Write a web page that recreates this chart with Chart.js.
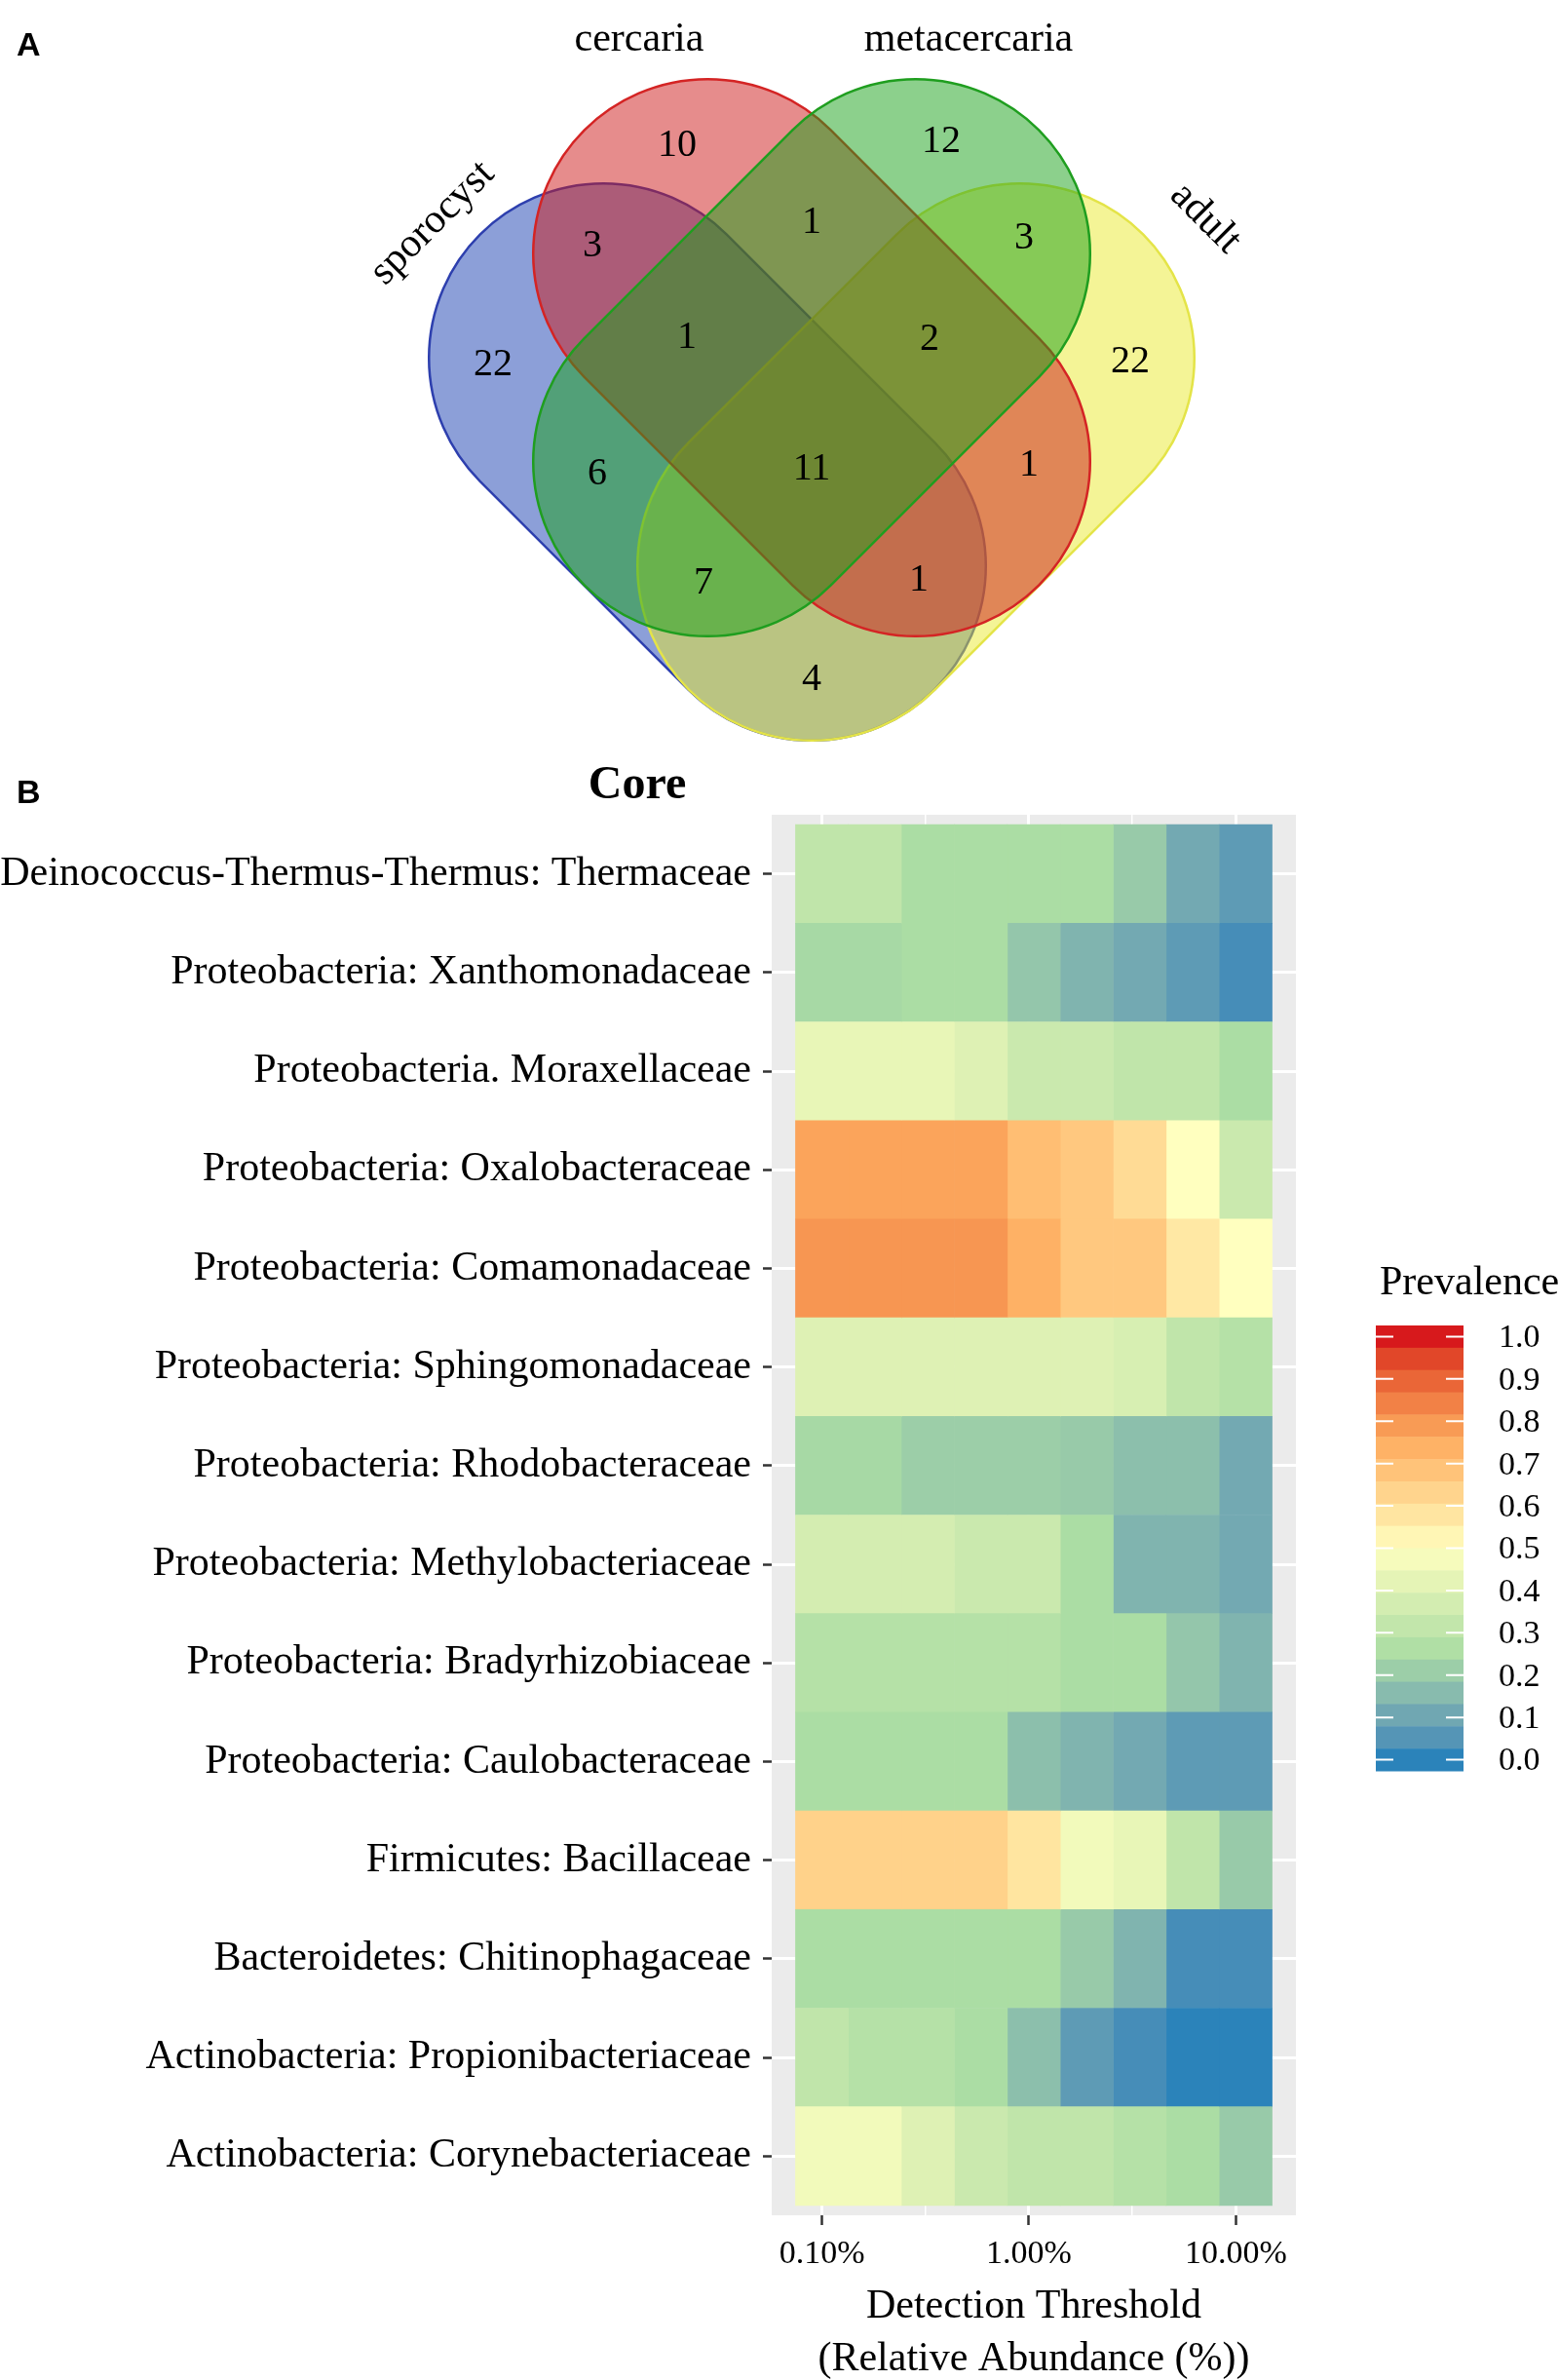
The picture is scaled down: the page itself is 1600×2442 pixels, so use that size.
<!DOCTYPE html>
<html lang="en">
<head>
<meta charset="utf-8">
<title>Venn and core microbiota heatmap</title>
<script src="https://cdn.jsdelivr.net/npm/chart.js@4.4.1/dist/chart.umd.min.js"></script>
<style>
    html, body { margin: 0; padding: 0; background: #fff; }
    .panel { position: absolute; left: 0; width: 1600px; }
    #panelA { top: 0; height: 780px; }
    #panelB { top: 780px; height: 1662px; }
</style>
</head>
<body>
<div class="panel" id="panelA"><canvas id="vennChart"></canvas></div>
<div class="panel" id="panelB"><canvas id="coreChart"></canvas></div>
<script>
// Panel A: genera shared between life stages
const stages = ['sporocyst', 'cercaria', 'metacercaria', 'adult'];
const vennRegions = ['S', 'C', 'M', 'A', 'SC', 'CM', 'MA', 'SCM', 'CMA', 'SM', 'SCMA', 'CA', 'SMA', 'SCA', 'SA'];
const vennCounts = [22, 10, 12, 22, 3, 1, 3, 1, 2, 6, 11, 1, 7, 1, 4];

// Panel B: core microbiota
const taxa = [
    'Deinococcus-Thermus-Thermus: Thermaceae',
    'Proteobacteria: Xanthomonadaceae',
    'Proteobacteria. Moraxellaceae',
    'Proteobacteria: Oxalobacteraceae',
    'Proteobacteria: Comamonadaceae',
    'Proteobacteria: Sphingomonadaceae',
    'Proteobacteria: Rhodobacteraceae',
    'Proteobacteria: Methylobacteriaceae',
    'Proteobacteria: Bradyrhizobiaceae',
    'Proteobacteria: Caulobacteraceae',
    'Firmicutes: Bacillaceae',
    'Bacteroidetes: Chitinophagaceae',
    'Actinobacteria: Propionibacteriaceae',
    'Actinobacteria: Corynebacteriaceae'
];
const detections = [0.1, 0.18, 0.325, 0.586, 1.056, 1.903, 3.43, 6.183, 11.145]; // %
const xTickValues = [0.1, 1, 10];
const xMinorValues = [0.316, 3.16];
const legendTicks = [1.0, 0.9, 0.8, 0.7, 0.6, 0.5, 0.4, 0.3, 0.2, 0.1, 0.0];
const spectral = ['#2b83ba', '#abdda4', '#ffffbf', '#fdae61', '#d7191c'];

// prevalence, one row per taxon, one value per detection threshold
const prevalence = [
    [0.31, 0.31, 0.25, 0.25, 0.25, 0.25, 0.20, 0.11, 0.07],
    [0.24, 0.24, 0.25, 0.25, 0.19, 0.14, 0.11, 0.07, 0.03],
    [0.43, 0.43, 0.43, 0.40, 0.34, 0.34, 0.31, 0.31, 0.25],
    [0.77, 0.77, 0.77, 0.77, 0.70, 0.67, 0.61, 0.50, 0.34],
    [0.80, 0.80, 0.80, 0.80, 0.74, 0.67, 0.67, 0.57, 0.50],
    [0.40, 0.40, 0.40, 0.40, 0.40, 0.40, 0.38, 0.31, 0.28],
    [0.24, 0.24, 0.21, 0.21, 0.21, 0.20, 0.17, 0.17, 0.11],
    [0.37, 0.37, 0.37, 0.34, 0.34, 0.25, 0.14, 0.14, 0.11],
    [0.28, 0.28, 0.28, 0.28, 0.28, 0.25, 0.25, 0.19, 0.14],
    [0.25, 0.25, 0.25, 0.25, 0.17, 0.14, 0.11, 0.07, 0.07],
    [0.64, 0.64, 0.64, 0.64, 0.58, 0.46, 0.43, 0.31, 0.20],
    [0.25, 0.25, 0.25, 0.25, 0.25, 0.20, 0.14, 0.03, 0.03],
    [0.31, 0.28, 0.28, 0.25, 0.17, 0.07, 0.03, 0.00, 0.00],
    [0.46, 0.46, 0.40, 0.34, 0.31, 0.31, 0.28, 0.25, 0.20]
];

const serif = "'Liberation Serif', 'Times New Roman', serif";
const sans = "'Liberation Sans', Arial, sans-serif";

// Venn drawing layout, in units of 100px
const regionPos = [
    [5.06, 3.74], [6.95, 1.49], [9.66, 1.45], [11.60, 3.71], [6.08, 2.52],
    [8.33, 2.28], [10.51, 2.44], [7.05, 3.46], [9.54, 3.48], [6.13, 4.86],
    [8.33, 4.81], [10.56, 4.77], [7.22, 5.98], [9.43, 5.95], [8.33, 6.97]
];
// each set is a rounded capsule: half length of the straight part, cap radius
const capsule = { half: 1.51, radius: 1.79 };
const shapes = [
    { cx: 7.26, cy: 4.74, rot: 45, fill: 'rgba(25, 63, 177, 0.5)', line: '#2d3fae' },
    { cx: 9.40, cy: 4.74, rot: -45, fill: 'rgba(233, 233, 45, 0.5)', line: '#e4e448' },
    { cx: 8.33, cy: 3.67, rot: 45, fill: 'rgba(205, 25, 25, 0.5)', line: '#d42424' },
    { cx: 8.33, cy: 3.67, rot: -45, fill: 'rgba(25, 161, 25, 0.5)', line: '#1f9e1f' }
];
const stageLabels = [
    { x: 4.44, y: 2.29, rot: -45 },
    { x: 6.56, y: 0.41, rot: 0 },
    { x: 9.94, y: 0.41, rot: 0 },
    { x: 12.37, y: 2.24, rot: 45 }
];

// colour scale, interpolated in Lab like ggplot's gradientn
function hexToRgb(h) { return [1, 3, 5].map(i => parseInt(h.substr(i, 2), 16)); }
function toLab(rgb) {
    const lin = rgb.map(v => { v /= 255; return v <= 0.04045 ? v / 12.92 : Math.pow((v + 0.055) / 1.055, 2.4); });
    const X = (lin[0] * 0.4124 + lin[1] * 0.3576 + lin[2] * 0.1805) / 0.95047;
    const Y = lin[0] * 0.2126 + lin[1] * 0.7152 + lin[2] * 0.0722;
    const Z = (lin[0] * 0.0193 + lin[1] * 0.1192 + lin[2] * 0.9505) / 1.08883;
    const f = t => t > 0.008856 ? Math.cbrt(t) : 7.787 * t + 16 / 116;
    return [116 * f(Y) - 16, 500 * (f(X) - f(Y)), 200 * (f(Y) - f(Z))];
}
function fromLab(lab) {
    const fy = (lab[0] + 16) / 116, fx = fy + lab[1] / 500, fz = fy - lab[2] / 200;
    const inv = t => t * t * t > 0.008856 ? t * t * t : (t - 16 / 116) / 7.787;
    const X = inv(fx) * 0.95047, Y = inv(fy), Z = inv(fz) * 1.08883;
    const rgb = [
        3.2406 * X - 1.5372 * Y - 0.4986 * Z,
        -0.9689 * X + 1.8758 * Y + 0.0415 * Z,
        0.0557 * X - 0.2040 * Y + 1.0570 * Z
    ];
    return rgb.map(v => {
        v = v <= 0.0031308 ? 12.92 * v : 1.055 * Math.pow(v, 1 / 2.4) - 0.055;
        return Math.round(Math.min(1, Math.max(0, v)) * 255);
    });
}
const paletteLab = spectral.map(h => toLab(hexToRgb(h)));
function prevColor(p) {
    const t = Math.min(1, Math.max(0, p)) * (paletteLab.length - 1);
    const i = Math.min(Math.floor(t), paletteLab.length - 2);
    const f = t - i;
    const c = fromLab(paletteLab[i].map((v, k) => v + (paletteLab[i + 1][k] - v) * f));
    return 'rgb(' + c.join(',') + ')';
}

// ---------- Panel A ----------
const vennPlugin = {
    id: 'venn',
    beforeDatasetsDraw(chart) {
        const { ctx, scales: { x, y } } = chart;
        const unit = x.getPixelForValue(1) - x.getPixelForValue(0);
        const L = capsule.half * unit, R = capsule.radius * unit;
        shapes.forEach(s => {
            ctx.save();
            ctx.translate(x.getPixelForValue(s.cx), y.getPixelForValue(s.cy));
            ctx.rotate(s.rot * Math.PI / 180);
            ctx.beginPath();
            ctx.arc(-L, 0, R, Math.PI / 2, Math.PI * 1.5);
            ctx.lineTo(L, -R);
            ctx.arc(L, 0, R, -Math.PI / 2, Math.PI / 2);
            ctx.closePath();
            ctx.fillStyle = s.fill;
            ctx.fill();
            ctx.lineWidth = 2.5;
            ctx.strokeStyle = s.line;
            ctx.stroke();
            ctx.restore();
        });
    },
    afterDatasetsDraw(chart) {
        const { ctx, scales: { x, y } } = chart;
        const meta = chart.getDatasetMeta(0);
        ctx.save();
        ctx.fillStyle = '#000';
        ctx.textAlign = 'center';
        ctx.textBaseline = 'middle';
        ctx.font = '40px ' + serif;
        meta.data.forEach((pt, i) => ctx.fillText(String(vennCounts[i]), pt.x, pt.y));
        ctx.font = '42px ' + serif;
        stageLabels.forEach((s, i) => {
            ctx.save();
            ctx.translate(x.getPixelForValue(s.x), y.getPixelForValue(s.y));
            ctx.rotate(s.rot * Math.PI / 180);
            ctx.fillText(stages[i], 0, 0);
            ctx.restore();
        });
        ctx.font = 'bold 34px ' + sans;
        ctx.textAlign = 'left';
        ctx.textBaseline = 'alphabetic';
        ctx.fillText('A', 17, 57);
        ctx.restore();
    }
};

new Chart(document.getElementById('vennChart'), {
    type: 'scatter',
    data: {
        labels: vennRegions,
        datasets: [{
            label: 'Shared genera',
            data: regionPos.map(p => ({ x: p[0], y: p[1] })),
            pointRadius: 0,
            pointHoverRadius: 0
        }]
    },
    options: {
        responsive: true,
        maintainAspectRatio: false,
        animation: false,
        events: [],
        layout: { padding: 0 },
        plugins: { legend: { display: false }, tooltip: { enabled: false } },
        scales: {
            x: { type: 'linear', min: 0, max: 16, display: false },
            y: { type: 'linear', min: 0, max: 7.8, reverse: true, display: false }
        }
    },
    plugins: [vennPlugin]
});

// ---------- Panel B ----------
// tile edges halfway (in log space) between thresholds
const tileEdges = [];
for (let j = 1; j < detections.length; j++) tileEdges[j] = Math.sqrt(detections[j - 1] * detections[j]);
tileEdges[0] = detections[0] * detections[0] / tileEdges[1];
tileEdges[detections.length] = detections[detections.length - 1] ** 2 / tileEdges[detections.length - 1];
const logLo = Math.log10(tileEdges[0]);
const logHi = Math.log10(tileEdges[detections.length]);
const logPad = 0.05 * (logHi - logLo);

const datasets = detections.map((d, j) => ({
    label: d + '%',
    data: taxa.map((t, i) => ({ x: [tileEdges[j], tileEdges[j + 1]], y: i })),
    backgroundColor: taxa.map((t, i) => prevColor(prevalence[i][j])),
    borderWidth: 0,
    grouped: false,
    categoryPercentage: 1,
    barPercentage: 1
}));

const panelBg = {
    id: 'panelBg',
    beforeDraw(chart) {
        const { ctx, chartArea: a } = chart;
        ctx.save();
        ctx.fillStyle = '#ebebeb';
        ctx.fillRect(a.left, a.top, a.right - a.left, a.bottom - a.top);
        ctx.restore();
    }
};

const legendPlugin = {
    id: 'prevLegend',
    afterDraw(chart) {
        const ctx = chart.ctx;
        const barX = 1412, barW = 90, barTop = 580, barH = 457, nbin = 20;
        const binH = barH / nbin;
        ctx.save();
        // titles
        ctx.fillStyle = '#000';
        ctx.font = 'bold 34px ' + sans;
        ctx.textBaseline = 'alphabetic';
        ctx.fillText('B', 17, 44);
        ctx.font = 'bold 48px ' + serif;
        ctx.textAlign = 'center';
        ctx.textBaseline = 'middle';
        ctx.fillText('Core', 654, 27);
        ctx.font = '42px ' + serif;
        ctx.textAlign = 'left';
        ctx.fillText('Prevalence', 1416, 537);
        // colour bar
        for (let k = 0; k < nbin; k++) {
            ctx.fillStyle = prevColor(1 - k / (nbin - 1));
            ctx.fillRect(barX, barTop + k * binH, barW, binH + 0.5);
        }
        ctx.strokeStyle = '#fff';
        ctx.lineWidth = 2;
        ctx.fillStyle = '#000';
        ctx.font = '34px ' + serif;
        legendTicks.forEach(v => {
            const yy = barTop + binH / 2 + (1 - v) * (barH - binH);
            ctx.beginPath();
            ctx.moveTo(barX, yy); ctx.lineTo(barX + 18, yy);
            ctx.moveTo(barX + barW - 18, yy); ctx.lineTo(barX + barW, yy);
            ctx.stroke();
            ctx.fillText(v.toFixed(1), 1538, yy + 2);
        });
        ctx.restore();
    }
};

const isMajor = v => xTickValues.some(t => Math.abs(t - v) < 1e-9);

new Chart(document.getElementById('coreChart'), {
    type: 'bar',
    data: { datasets },
    options: {
        indexAxis: 'y',
        responsive: true,
        maintainAspectRatio: false,
        animation: false,
        events: [],
        layout: { padding: { left: 0, right: 270, top: 56, bottom: 0 } },
        plugins: { legend: { display: false }, tooltip: { enabled: false } },
        scales: {
            x: {
                type: 'logarithmic',
                bounds: 'data',
                min: Math.pow(10, logLo - logPad),
                max: Math.pow(10, logHi + logPad),
                afterBuildTicks: s => {
                    s.ticks = xTickValues.concat(xMinorValues).sort((a, b) => a - b).map(v => ({ value: v }));
                },
                afterFit: s => { s.height = 169; },
                border: { display: false },
                grid: {
                    color: '#fff',
                    lineWidth: c => (c.tick && isMajor(c.tick.value)) ? 3 : 1.5,
                    tickColor: c => (c.tick && isMajor(c.tick.value)) ? '#333' : 'rgba(0,0,0,0)',
                    tickLength: 10,
                    tickWidth: 2.5
                },
                ticks: {
                    autoSkip: false,
                    maxRotation: 0,
                    padding: 10,
                    color: '#000',
                    font: { family: serif, size: 34 },
                    callback: v => isMajor(v) ? v.toFixed(2) + '%' : ''
                },
                title: {
                    display: true,
                    text: ['Detection Threshold', '(Relative Abundance (%))'],
                    color: '#000',
                    font: { family: serif, size: 42, lineHeight: 1.28 },
                    padding: { top: 0, bottom: -6 }
                }
            },
            y: {
                type: 'linear',
                reverse: true,
                offset: false,
                min: -0.6,
                max: taxa.length - 0.4,
                afterBuildTicks: s => { s.ticks = taxa.map((t, i) => ({ value: i })); },
                afterFit: s => { s.width = 792; },
                border: { display: false },
                grid: { offset: false, color: '#fff', lineWidth: 3, tickColor: '#333', tickLength: 9, tickWidth: 2.5 },
                ticks: {
                    autoSkip: false,
                    padding: 12,
                    color: '#000',
                    font: { family: serif, size: 42 },
                    callback: v => taxa[v]
                }
            }
        }
    },
    plugins: [panelBg, legendPlugin]
});
</script>
</body>
</html>
